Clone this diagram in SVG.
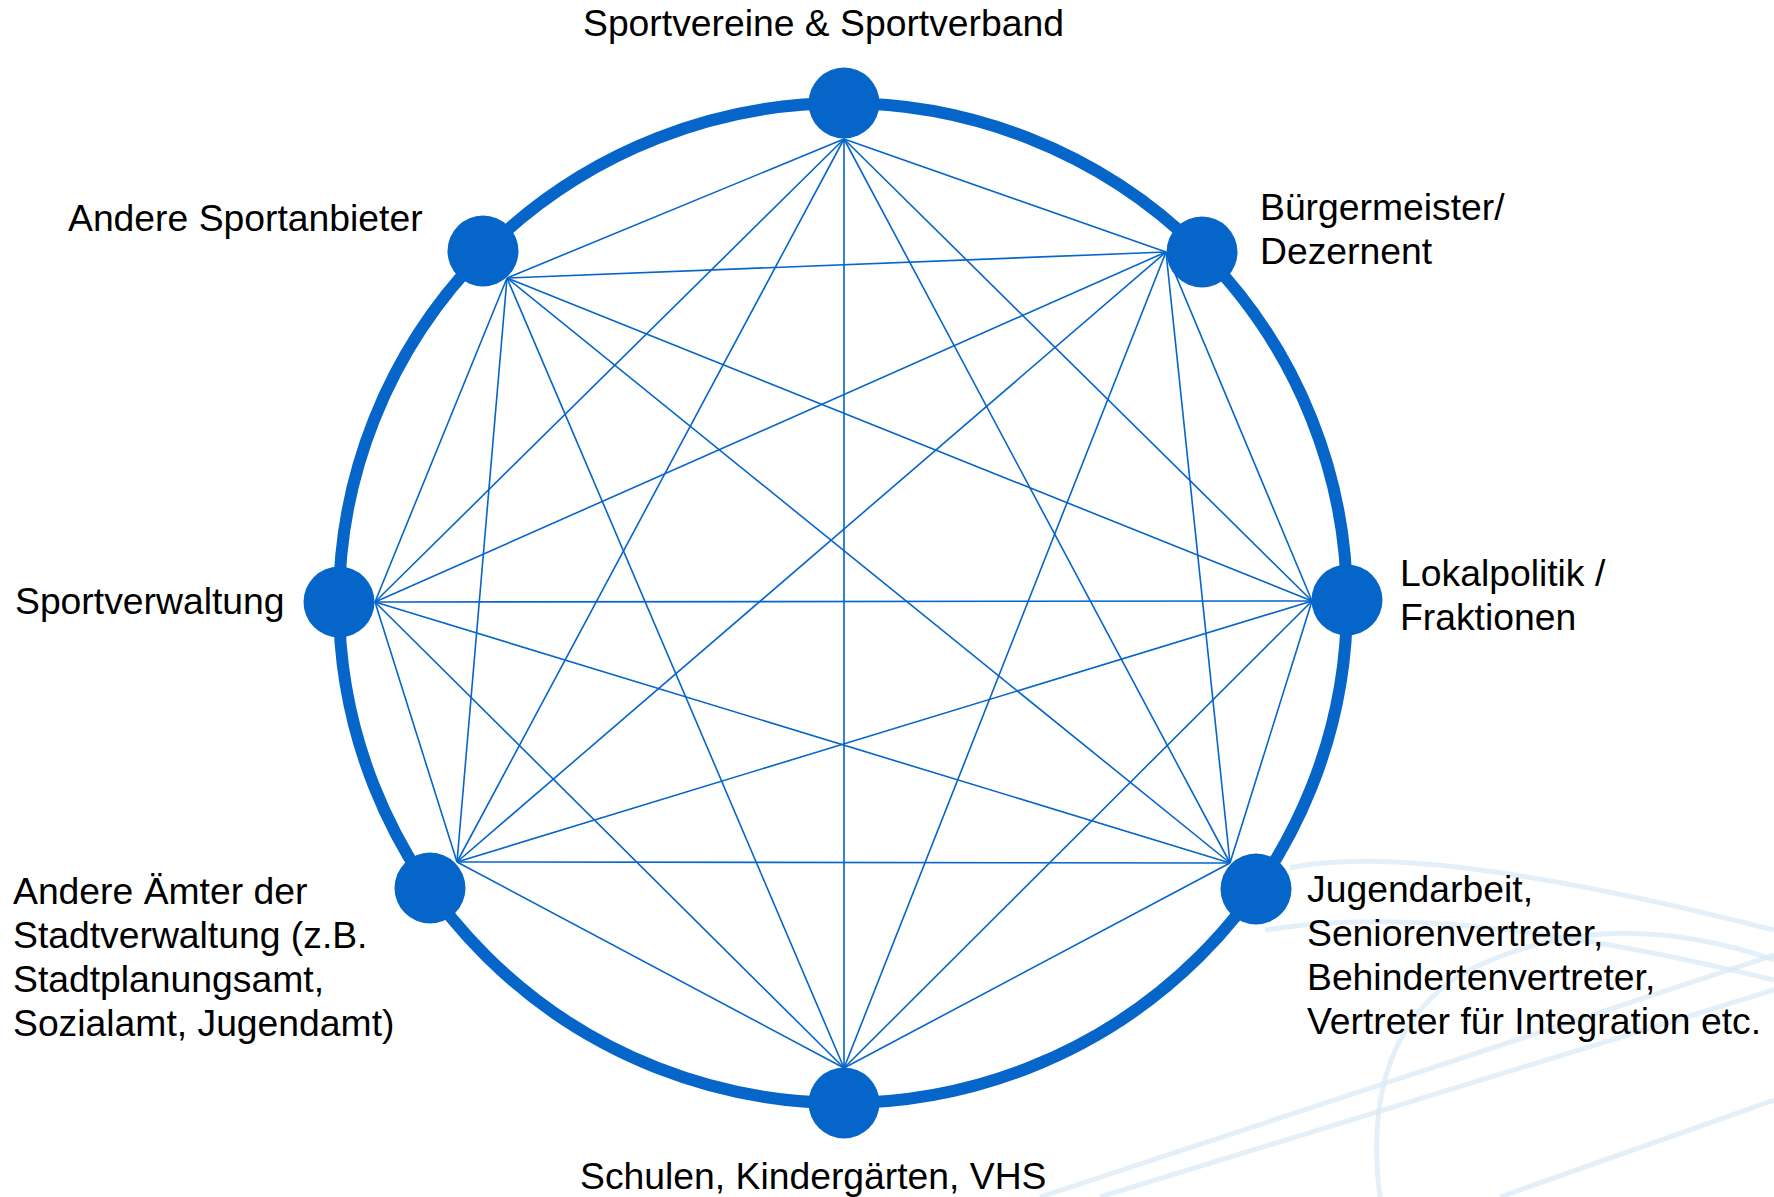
<svg xmlns="http://www.w3.org/2000/svg" width="1774" height="1197" viewBox="0 0 1774 1197">
<style>
.lbl{font-family:"Liberation Sans",Arial,sans-serif;font-size:37.3px;fill:#000}
.ring{fill:none;stroke:#0565c9;stroke-width:12}
.node{fill:#0565c9}
.edge{stroke:#0565c9;stroke-width:1.6;fill:none}
.bg{fill:none;stroke:#d9e9f6;stroke-width:5;opacity:0.7}
</style>
<rect width="1774" height="1197" fill="#fff"/>
<g id="background">
<path class="bg" d="M1290 868 Q1420 840 1774 930"/>
<path class="bg" d="M1265 930 Q1450 900 1774 980"/>
<path class="bg" d="M1380 1197 Q1360 1040 1460 975 Q1600 900 1774 960"/>
<path class="bg" d="M1040 1197 L1774 955"/>
<path class="bg" d="M1100 1197 L1774 990"/>
<path class="bg" d="M1500 1197 L1774 1100"/>
</g>
<ellipse class="ring" cx="843" cy="603" rx="504" ry="500"/>
<g id="connectors">
<line class="edge" x1="844" y1="139" x2="1166" y2="252"/>
<line class="edge" x1="844" y1="139" x2="1312" y2="601"/>
<line class="edge" x1="844" y1="139" x2="1230" y2="863"/>
<line class="edge" x1="844" y1="139" x2="844" y2="1068"/>
<line class="edge" x1="844" y1="139" x2="457" y2="862"/>
<line class="edge" x1="844" y1="139" x2="375" y2="602"/>
<line class="edge" x1="844" y1="139" x2="507" y2="278"/>
<line class="edge" x1="1166" y1="252" x2="1312" y2="601"/>
<line class="edge" x1="1166" y1="252" x2="1230" y2="863"/>
<line class="edge" x1="1166" y1="252" x2="844" y2="1068"/>
<line class="edge" x1="1166" y1="252" x2="457" y2="862"/>
<line class="edge" x1="1166" y1="252" x2="375" y2="602"/>
<line class="edge" x1="1166" y1="252" x2="507" y2="278"/>
<line class="edge" x1="1312" y1="601" x2="1230" y2="863"/>
<line class="edge" x1="1312" y1="601" x2="844" y2="1068"/>
<line class="edge" x1="1312" y1="601" x2="457" y2="862"/>
<line class="edge" x1="1312" y1="601" x2="375" y2="602"/>
<line class="edge" x1="1312" y1="601" x2="507" y2="278"/>
<line class="edge" x1="1230" y1="863" x2="844" y2="1068"/>
<line class="edge" x1="1230" y1="863" x2="457" y2="862"/>
<line class="edge" x1="1230" y1="863" x2="375" y2="602"/>
<line class="edge" x1="1230" y1="863" x2="507" y2="278"/>
<line class="edge" x1="844" y1="1068" x2="457" y2="862"/>
<line class="edge" x1="844" y1="1068" x2="375" y2="602"/>
<line class="edge" x1="844" y1="1068" x2="507" y2="278"/>
<line class="edge" x1="457" y1="862" x2="375" y2="602"/>
<line class="edge" x1="457" y1="862" x2="507" y2="278"/>
<line class="edge" x1="375" y1="602" x2="507" y2="278"/>
</g>
<g id="n-sportvereine"><circle class="node" cx="844" cy="103" r="35.5"/><text class="lbl" x="583" y="36">Sportvereine &amp; Sportverband</text></g>
<g id="n-buergermeister"><circle class="node" cx="1202" cy="252" r="35.5"/><text class="lbl" x="1260" y="220">Bürgermeister/</text><text class="lbl" x="1260" y="264">Dezernent</text></g>
<g id="n-lokalpolitik"><circle class="node" cx="1347" cy="600" r="35.5"/><text class="lbl" x="1400" y="586">Lokalpolitik /</text><text class="lbl" x="1400" y="630">Fraktionen</text></g>
<g id="n-jugendarbeit"><circle class="node" cx="1256" cy="889" r="35.5"/><text class="lbl" x="1307" y="902">Jugendarbeit,</text><text class="lbl" x="1307" y="946">Seniorenvertreter,</text><text class="lbl" x="1307" y="990">Behindertenvertreter,</text><text class="lbl" x="1307" y="1034">Vertreter für Integration etc.</text></g>
<g id="n-schulen"><circle class="node" cx="844" cy="1103" r="35.5"/><text class="lbl" x="580" y="1189">Schulen, Kindergärten, VHS</text></g>
<g id="n-aemter"><circle class="node" cx="430" cy="888" r="35.5"/><text class="lbl" x="13" y="904">Andere Ämter der</text><text class="lbl" x="13" y="948">Stadtverwaltung (z.B.</text><text class="lbl" x="13" y="992">Stadtplanungsamt,</text><text class="lbl" x="13" y="1036">Sozialamt, Jugendamt)</text></g>
<g id="n-sportverwaltung"><circle class="node" cx="339" cy="602" r="35.5"/><text class="lbl" x="15" y="614">Sportverwaltung</text></g>
<g id="n-sportanbieter"><circle class="node" cx="483" cy="251" r="35.5"/><text class="lbl" x="68" y="231">Andere Sportanbieter</text></g>
</svg>
